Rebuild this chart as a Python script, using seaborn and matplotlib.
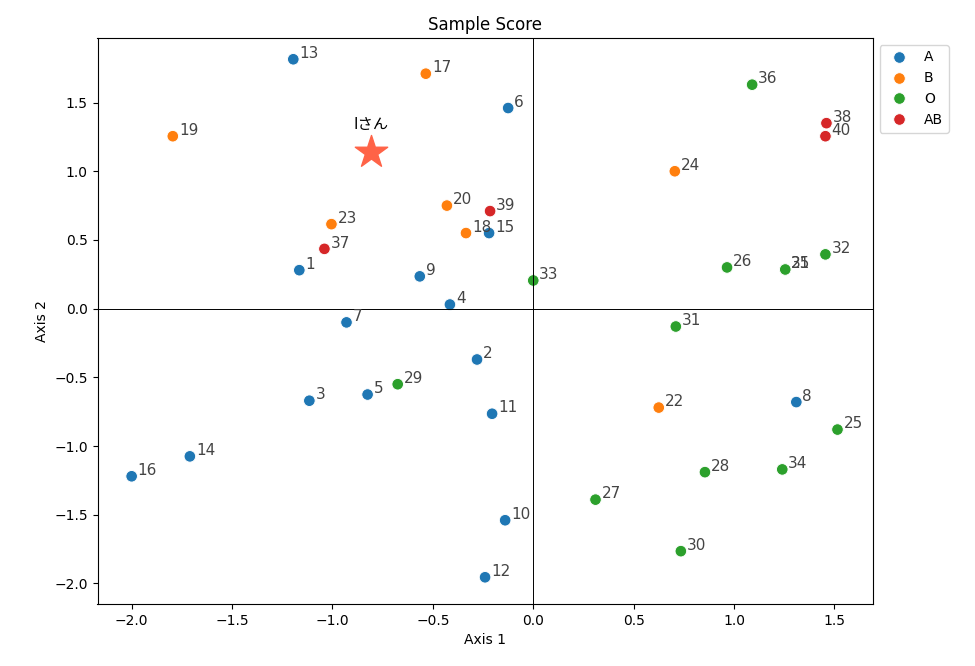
import pandas as pd
import matplotlib.pyplot as plt
import seaborn as sns

ids = list(range(1, 41))
axis1 = [-1.165, -0.28, -1.115, -0.415, -0.825, -0.125, -0.93, 1.31, -0.565, -0.14,
         -0.205, -0.24, -1.195, -1.71, -0.22, -2.0, -0.535, -0.335, -1.795, -0.43,
         1.255, 0.625, -1.005, 0.705, 1.515, 0.965, 0.31, 0.855, -0.675, 0.735,
         0.71, 1.455, 0.0, 1.24, 1.255, 1.09, -1.04, 1.46, -0.215, 1.455]
axis2 = [0.28, -0.37, -0.67, 0.03, -0.625, 1.46, -0.10, -0.68, 0.235, -1.54,
         -0.765, -1.955, 1.815, -1.075, 0.55, -1.22, 1.71, 0.55, 1.255, 0.75,
         0.285, -0.72, 0.615, 1.0, -0.88, 0.30, -1.39, -1.19, -0.55, -1.765,
         -0.13, 0.395, 0.205, -1.17, 0.285, 1.63, 0.435, 1.35, 0.71, 1.255]
blood = ['A'] * 16 + ['B'] * 4 + ['O', 'B', 'B', 'B'] + ['O'] * 12 + ['AB'] * 4
star_x, star_y = -0.81, 1.14
star_label = 'Iさん'

df = pd.DataFrame({'id': ids, 'Axis 1': axis1, 'Axis 2': axis2, 'blood': blood})

plt.rcParams['font.family'] = ['DejaVu Sans', 'Noto Sans CJK JP']
fig, ax = plt.subplots(figsize=(9.75, 6.66), dpi=100)
sns.scatterplot(data=df, x='Axis 1', y='Axis 2', hue='blood', hue_order=['A', 'B', 'O', 'AB'],
                s=70, ax=ax)
for _, r in df.iterrows():
    ax.text(r['Axis 1'] + 0.03, r['Axis 2'] + 0.01, str(r['id']), fontsize=11, color='#444444')
ax.scatter([star_x], [star_y], marker='*', s=600, color='tomato')
ax.text(star_x, star_y + 0.17, star_label, ha='center', fontsize=11,
        family=['Noto Sans CJK JP', 'DejaVu Sans'])
ax.axhline(0, color='black', lw=0.7)
ax.axvline(0, color='black', lw=0.7)
ax.set_xlim(-2.17, 1.69)
ax.set_ylim(-2.15, 1.97)
ax.set_title('Sample Score')
ax.legend(loc='upper left', bbox_to_anchor=(1.0, 1.0), title=None)
fig.subplots_adjust(left=0.1, right=0.895, top=0.943, bottom=0.093)
fig.savefig('out.png')
